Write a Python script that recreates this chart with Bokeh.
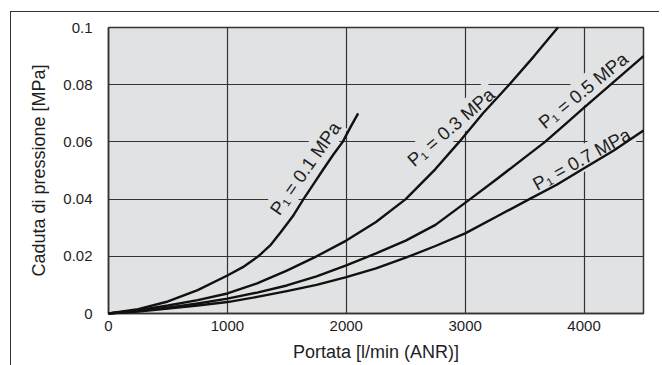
from bokeh.plotting import figure
from bokeh.models import Label, FixedTicker, Range1d
from bokeh.layouts import column
from bokeh.embed import file_html
from bokeh.resources import INLINE

# P1 = 0.1 MPa
flow_01 = [0, 250, 500, 750, 1000, 1130, 1260, 1360, 1450, 1550, 1640, 1720, 1800, 1890, 1970, 2040, 2100]
drop_01 = [0, 0.0015, 0.0042, 0.0082, 0.0133, 0.0162, 0.020, 0.0238, 0.0285, 0.034, 0.040, 0.045,
           0.050, 0.0555, 0.060, 0.0655, 0.070]
# P1 = 0.3 MPa
flow_03 = [0, 250, 500, 750, 1000, 1250, 1500, 1750, 2000, 2250, 2500, 2750, 2950, 3150, 3370, 3580, 3780]
drop_03 = [0, 0.0012, 0.0028, 0.0047, 0.007, 0.0105, 0.015, 0.020, 0.0255, 0.032, 0.040, 0.0505,
           0.060, 0.070, 0.080, 0.090, 0.100]
# P1 = 0.5 MPa
flow_05 = [0, 250, 500, 750, 1000, 1250, 1500, 1750, 2000, 2250, 2500, 2750, 3042, 3250, 3500, 3672,
           3850, 4000, 4250, 4500]
drop_05 = [0, 0.0009, 0.002, 0.0035, 0.0052, 0.0073, 0.0098, 0.013, 0.0168, 0.021, 0.0255, 0.031,
           0.040, 0.0465, 0.0545, 0.060, 0.0665, 0.072, 0.081, 0.090]
# P1 = 0.7 MPa
flow_07 = [0, 250, 500, 750, 1000, 1250, 1500, 1750, 2000, 2250, 2500, 2750, 3000, 3270, 3540, 3770,
           4000, 4250, 4500]
drop_07 = [0, 0.0007, 0.0017, 0.0028, 0.004, 0.0058, 0.0078, 0.010, 0.0127, 0.0158, 0.0195, 0.0236,
           0.028, 0.034, 0.040, 0.045, 0.0508, 0.057, 0.064]

series_labels = ["P\u2081 = 0.1 MPa", "P\u2081 = 0.3 MPa", "P\u2081 = 0.5 MPa", "P\u2081 = 0.7 MPa"]
label_x = [1655, 2880, 3992, 3980]
label_y = [0.0508, 0.0652, 0.078, 0.0540]
label_angle = [55, 41, 39, 29]

x_ticks = [0, 1000, 2000, 3000, 4000]
y_ticks = [0, 0.02, 0.04, 0.06, 0.08, 0.1]
y_tick_labels = ["0", "0.02", "0.04", "0.06", "0.08", "0.1"]

FONT = "Liberation Sans"
BG = "#e1e2e3"
INK = "#1e1e1e"

p = figure(width=648, height=353, output_backend="svg", toolbar_location=None,
           x_range=Range1d(0, 4500), y_range=Range1d(0, 0.1),
           min_border_left=97, min_border_right=16, min_border_top=15, min_border_bottom=52)
p.background_fill_color = BG
p.border_fill_color = "white"
p.outline_line_color = "#333333"
p.outline_line_width = 1.5

for ax in (p.xaxis[0], p.yaxis[0]):
    ax.major_tick_line_color = None
    ax.minor_tick_line_color = None
    ax.axis_line_color = "#333333"
    ax.axis_line_width = 1.5
    ax.major_label_text_font = FONT
    ax.major_label_text_font_size = "15px"
    ax.major_label_text_color = INK
    ax.axis_label_text_font = FONT
    ax.axis_label_text_font_size = "18px"
    ax.axis_label_text_font_style = "normal"
    ax.axis_label_text_color = INK

p.xaxis.ticker = FixedTicker(ticks=x_ticks)
p.yaxis.ticker = FixedTicker(ticks=y_ticks)
p.yaxis.major_label_overrides = {t: s for t, s in zip(y_ticks, y_tick_labels)}
p.xaxis.axis_label = "Portata [l/min (ANR)]"
p.yaxis.axis_label = "Caduta di pressione [MPa]"
p.xaxis.major_label_standoff = 1
p.xaxis.axis_label_standoff = 8
p.yaxis.major_label_standoff = 10
p.yaxis.axis_label_standoff = 11

for g in (p.xgrid[0], p.ygrid[0]):
    g.grid_line_color = "#333333"
    g.grid_line_width = 1.2

for fx, dy in ((flow_01, drop_01), (flow_03, drop_03), (flow_05, drop_05), (flow_07, drop_07)):
    p.line(fx, dy, line_color="#111111", line_width=2.4, line_join="round", level="overlay")

for t, lx, ly, la in zip(series_labels, label_x, label_y, label_angle):
    p.add_layout(Label(x=lx, y=ly, text=t, angle=la, angle_units="deg",
                       text_align="center", text_baseline="middle",
                       text_font=FONT, text_font_size="18.5px", text_color=INK,
                       background_fill_color=BG, padding=2))

layout = column(p, styles={"border-top": "1px solid #333", "border-left": "1px solid #333",
                           "margin-left": "10px", "margin-top": "11px", "margin-bottom": "-20px"})

open("out.html", "w").write(file_html(layout, INLINE))
